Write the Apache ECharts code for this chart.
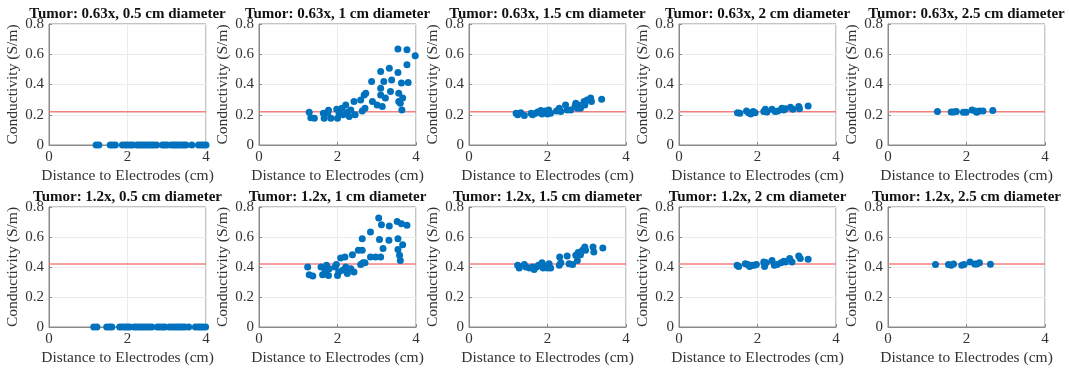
<!DOCTYPE html>
<html><head><meta charset="utf-8">
<script src="https://cdn.jsdelivr.net/npm/echarts@6/dist/echarts.min.js"></script>
<style>html,body{margin:0;padding:0;background:#fff}#c{width:1069px;height:371px}</style>
</head><body><div id="c"></div>
<script>
// ---------- data ----------
const titles = [
  "Tumor: 0.63x, 0.5 cm diameter","Tumor: 0.63x, 1 cm diameter","Tumor: 0.63x, 1.5 cm diameter","Tumor: 0.63x, 2 cm diameter","Tumor: 0.63x, 2.5 cm diameter",
  "Tumor: 1.2x, 0.5 cm diameter","Tumor: 1.2x, 1 cm diameter","Tumor: 1.2x, 1.5 cm diameter","Tumor: 1.2x, 2 cm diameter","Tumor: 1.2x, 2.5 cm diameter"
];
const xTicks = [0, 2, 4];
const yTicks = [0, 0.2, 0.4, 0.6, 0.8];
const referenceLevel = [0.22, 0.42]; // top row, bottom row

const t063_05 = [[1.2,0],[1.27,0],[1.56,0],[1.62,0],[1.69,0],[1.87,0],[1.94,0],[2.0,0],[2.07,0],[2.13,0],[2.24,0],[2.3,0],[2.36,0],[2.42,0],[2.49,0],[2.55,0],[2.61,0],[2.67,0],[2.74,0],[2.89,0],[2.95,0],[3.01,0],[3.12,0],[3.18,0],[3.24,0],[3.3,0],[3.37,0],[3.43,0],[3.49,0],[3.64,0],[3.81,0],[3.88,0],[3.94,0],[4.0,0]];
const t063_10 = [[1.28,0.217],[1.32,0.18],[1.41,0.177],[1.64,0.21],[1.66,0.177],[1.75,0.21],[1.77,0.23],[1.83,0.177],[1.98,0.236],[2.0,0.177],[2.04,0.21],[2.11,0.243],[2.14,0.2],[2.21,0.265],[2.25,0.217],[2.3,0.188],[2.34,0.232],[2.42,0.287],[2.45,0.2],[2.59,0.298],[2.63,0.225],[2.68,0.33],[2.7,0.243],[2.72,0.342],[2.87,0.42],[2.89,0.287],[3.01,0.265],[3.1,0.486],[3.1,0.376],[3.1,0.33],[3.14,0.254],[3.18,0.42],[3.22,0.31],[3.32,0.508],[3.35,0.354],[3.38,0.43],[3.54,0.634],[3.54,0.48],[3.56,0.342],[3.56,0.287],[3.6,0.276],[3.63,0.41],[3.64,0.232],[3.66,0.31],[3.77,0.63],[3.77,0.53],[3.8,0.413],[3.98,0.59]];
const t063_15 = [[1.2,0.21],[1.24,0.2],[1.32,0.214],[1.41,0.195],[1.58,0.21],[1.62,0.2],[1.7,0.21],[1.75,0.219],[1.83,0.228],[1.86,0.205],[1.94,0.225],[2.0,0.205],[2.03,0.232],[2.08,0.21],[2.23,0.225],[2.3,0.243],[2.34,0.221],[2.46,0.265],[2.5,0.232],[2.59,0.232],[2.7,0.254],[2.72,0.276],[2.76,0.243],[2.78,0.265],[2.84,0.243],[2.93,0.287],[2.95,0.265],[3.01,0.298],[3.1,0.31],[3.12,0.287],[3.38,0.303]];
const t063_20 = [[1.49,0.214],[1.55,0.21],[1.72,0.225],[1.77,0.214],[1.83,0.205],[1.89,0.221],[1.94,0.214],[2.16,0.221],[2.2,0.236],[2.24,0.219],[2.37,0.236],[2.45,0.221],[2.52,0.225],[2.62,0.243],[2.67,0.232],[2.71,0.239],[2.84,0.25],[2.9,0.236],[3.05,0.254],[3.07,0.239],[3.29,0.258]];
const t063_25 = [[1.26,0.221],[1.61,0.219],[1.67,0.219],[1.74,0.221],[1.92,0.217],[1.99,0.217],[2.14,0.232],[2.22,0.225],[2.26,0.217],[2.33,0.225],[2.42,0.225],[2.67,0.228]];
const t12_05 = [[1.14,0],[1.22,0],[1.47,0],[1.54,0],[1.6,0],[1.8,0],[1.87,0],[1.94,0],[2.0,0],[2.06,0],[2.17,0],[2.23,0],[2.3,0],[2.36,0],[2.42,0],[2.48,0],[2.55,0],[2.62,0],[2.76,0],[2.82,0],[2.89,0],[2.95,0],[3.07,0],[3.14,0],[3.21,0],[3.27,0],[3.33,0],[3.4,0],[3.46,0],[3.56,0],[3.73,0],[3.8,0],[3.86,0],[3.92,0],[3.99,0]];
const t12_10 = [[1.24,0.4],[1.28,0.349],[1.37,0.34],[1.58,0.4],[1.62,0.349],[1.69,0.371],[1.72,0.411],[1.77,0.344],[1.79,0.389],[1.94,0.4],[1.97,0.416],[2.0,0.344],[2.03,0.367],[2.08,0.46],[2.13,0.378],[2.19,0.467],[2.21,0.4],[2.25,0.356],[2.34,0.389],[2.38,0.482],[2.42,0.367],[2.53,0.511],[2.59,0.416],[2.63,0.511],[2.63,0.589],[2.65,0.429],[2.7,0.429],[2.84,0.633],[2.84,0.467],[2.97,0.467],[3.05,0.727],[3.07,0.584],[3.1,0.467],[3.12,0.682],[3.16,0.524],[3.31,0.578],[3.32,0.673],[3.52,0.704],[3.54,0.589],[3.54,0.516],[3.58,0.478],[3.6,0.444],[3.63,0.689],[3.66,0.549],[3.77,0.678]];
const t12_15 = [[1.24,0.411],[1.28,0.393],[1.41,0.416],[1.45,0.4],[1.54,0.393],[1.62,0.4],[1.66,0.384],[1.72,0.4],[1.77,0.411],[1.86,0.429],[1.89,0.393],[1.96,0.407],[2.0,0.393],[2.04,0.422],[2.08,0.393],[2.3,0.411],[2.31,0.467],[2.34,0.429],[2.5,0.473],[2.55,0.422],[2.64,0.416],[2.72,0.478],[2.76,0.444],[2.78,0.496],[2.84,0.482],[2.89,0.511],[2.95,0.533],[2.97,0.511],[3.16,0.533],[3.18,0.5],[3.41,0.527]];
const t12_20 = [[1.48,0.411],[1.52,0.404],[1.69,0.422],[1.75,0.416],[1.8,0.404],[1.86,0.411],[1.92,0.411],[1.97,0.416],[2.16,0.433],[2.18,0.404],[2.22,0.429],[2.37,0.444],[2.43,0.411],[2.5,0.416],[2.6,0.429],[2.67,0.438],[2.71,0.433],[2.82,0.456],[2.88,0.433],[3.05,0.473],[3.09,0.456],[3.29,0.451]];
const t12_25 = [[1.21,0.416],[1.54,0.416],[1.61,0.411],[1.67,0.42],[1.88,0.411],[1.94,0.416],[2.09,0.433],[2.21,0.42],[2.26,0.42],[2.33,0.429],[2.61,0.418]];

const panels = [t063_05, t063_10, t063_15, t063_20, t063_25, t12_05, t12_10, t12_15, t12_20, t12_25];

// ---------- layout ----------
const lefts = [49, 259, 469, 679, 888];
const W = 157;
const tops = [24, 207];
const heights = [121, 120];
const FONT = '"Liberation Serif","Times New Roman",serif';
const axisColor = '#8a8a8a';
const textColor = '#333';

const grid = [], xAxis = [], yAxis = [], series = [], graphic = [];
panels.forEach((pts, i) => {
  const r = Math.floor(i / 5), c = i % 5;
  grid.push({left: lefts[c], top: tops[r], width: W, height: heights[r], show: true,
    borderColor: axisColor, borderWidth: 1, backgroundColor: 'transparent', containLabel: false});
  xAxis.push({type: 'value', gridIndex: i, min: xTicks[0], max: xTicks[xTicks.length-1], interval: xTicks[1]-xTicks[0],
    name: 'Distance to Electrodes (cm)', nameLocation: 'middle', nameGap: 23,
    nameTextStyle: {fontFamily: FONT, fontSize: 15.5, color: textColor},
    axisLine: {show: true, lineStyle: {color: axisColor}},
    axisTick: {show: true, inside: true, length: 3, lineStyle: {color: axisColor}},
    axisLabel: {fontFamily: FONT, fontSize: 15, color: textColor, margin: 5},
    splitLine: {show: true, lineStyle: {color: '#ebebeb', width: 1}}});
  yAxis.push({type: 'value', gridIndex: i, min: yTicks[0], max: yTicks[yTicks.length-1], interval: yTicks[1]-yTicks[0],
    name: 'Conductivity (S/m)', nameLocation: 'middle', nameGap: 21,
    nameTextStyle: {fontFamily: FONT, fontSize: 15.5, color: textColor},
    axisLine: {show: true, lineStyle: {color: axisColor}},
    axisTick: {show: true, inside: true, length: 3, lineStyle: {color: axisColor}},
    axisLabel: {fontFamily: FONT, fontSize: 15, color: textColor, margin: 5},
    splitLine: {show: true, lineStyle: {color: '#ebebeb', width: 1}}});
  const lvl = referenceLevel[r];
  series.push({type: 'line', xAxisIndex: i, yAxisIndex: i, data: [[xTicks[0], lvl], [xTicks[xTicks.length-1], lvl]],
    symbol: 'none', silent: true, lineStyle: {color: '#f48080', width: 1.5}, z: 2});
  series.push({type: 'scatter', xAxisIndex: i, yAxisIndex: i, data: pts, symbolSize: 7,
    itemStyle: {color: '#0072BD', opacity: 1}, z: 3});
  graphic.push({type: 'text', x: lefts[c] + W/2, y: tops[r] - 10,
    style: {text: titles[i], font: 'bold 15px ' + FONT, fill: '#111', align: 'center', verticalAlign: 'middle',
      textAlign: 'center', textVerticalAlign: 'middle'}});
});

const chart = echarts.init(document.getElementById('c'), null, {renderer: 'canvas'});
chart.setOption({animation: false, grid, xAxis, yAxis, series, graphic});
</script></body></html>
